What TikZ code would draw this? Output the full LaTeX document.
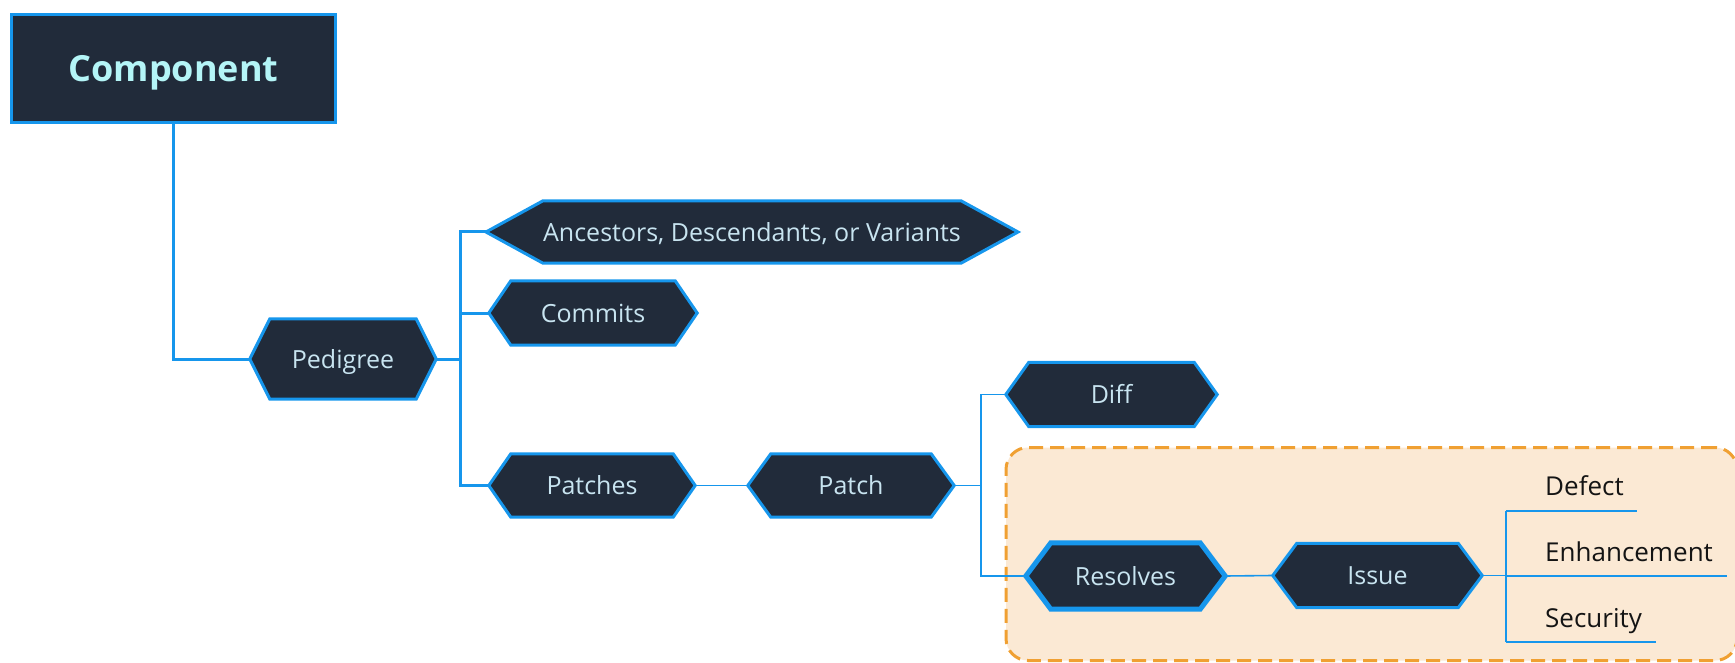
\documentclass[tikz,border=0pt]{standalone}
\usepackage{fontspec}
\setmainfont{Open Sans}
\pgfdeclarelayer{boxl}\pgfdeclarelayer{linel}\pgfdeclarelayer{hexl}
\pgfsetlayers{boxl,linel,hexl,main}
\definecolor{navy}{RGB}{33,43,58}
\definecolor{bblue}{RGB}{22,150,236}
\definecolor{compcyan}{RGB}{180,245,247}
\definecolor{hextext}{RGB}{200,228,240}
\definecolor{ofill}{RGB}{251,233,212}
\definecolor{odash}{RGB}{240,160,50}
\tikzset{
  hexlabel/.style={inner sep=0pt, text=hextext, font=\fontsize{25}{30}\selectfont, text height=18.5pt, text depth=0pt},
  hexbox/.style={fill=navy, draw=bblue, line width=3pt},
  conn/.style={draw=bblue, line width=3pt},
  thinconn/.style={draw=bblue, line width=1.6pt},
  uline/.style={draw=bblue, line width=2.6pt},
  leaf/.style={inner sep=0pt, anchor=base west, text=black!92, font=\fontsize{26}{30}\selectfont},
  compbox/.style={rectangle, draw=bblue, line width=3pt, fill=navy, inner sep=0pt, text=compcyan,
     font=\fontsize{36}{40}\selectfont\bfseries, text height=26pt, text depth=0pt},
  groupbox/.style={rectangle, rounded corners=22pt, fill=ofill, draw=odash, line width=3pt,
     dash pattern=on 14pt off 7pt, inner sep=0pt}
}
\newcommand{\hexdraw}[3][]{%
  \begin{pgfonlayer}{hexl}
  \draw[hexbox,#1] (#2.north west) -- (#2.north east) -- ([xshift=#3pt]#2.east) -- (#2.south east)
     -- (#2.south west) -- ([xshift=-#3pt]#2.west) -- cycle;
  \end{pgfonlayer}
  \coordinate (#2-l) at ([xshift=-#3pt]#2.west);
  \coordinate (#2-r) at ([xshift=#3pt]#2.east);
}
\begin{document}
\begin{tikzpicture}[x=1pt,y=-1pt]
\useasboundingbox (0,0) rectangle (1735,663);
% group box
\begin{pgfonlayer}{boxl}
\node[groupbox, minimum width=731pt, minimum height=213pt] (grp) at (1371.5,554) {};
\end{pgfonlayer}
% nodes
\node[compbox, minimum width=324pt, minimum height=108pt] (comp) at (173.5,68.5) {Component};
\node[hexlabel, minimum width=146pt, minimum height=80pt] (ped) at (343,359) {Pedigree};
\hexdraw{ped}{20}
\node[hexlabel, minimum width=414pt, minimum height=62pt] (anc) at (752,232) {Ancestors, Descendants, or Variants};
\hexdraw{anc}{57}
\node[hexlabel, minimum width=164pt, minimum height=64pt] (com) at (593,313) {Commits};
\hexdraw{com}{22}
\node[hexlabel, minimum width=162pt, minimum height=63pt] (pats) at (592,485.5) {Patches};
\hexdraw{pats}{22}
\node[hexlabel, minimum width=160pt, minimum height=63pt] (patch) at (851,485.5) {Patch};
\hexdraw{patch}{23}
\node[hexlabel, minimum width=165pt, minimum height=64pt] (diff) at (1111.5,394.5) {Diff};
\hexdraw{diff}{23}
\node[hexlabel, minimum width=149pt, minimum height=66pt] (res) at (1125.5,576) {Resolves};
\hexdraw[line width=5pt]{res}{25}
\node[hexlabel, minimum width=161pt, minimum height=64pt] (iss) at (1377.5,575.5) {Issue};
\hexdraw{iss}{24}
\node[leaf] (def) at (1545,495) {Defect};
\node[leaf] (enh) at (1545,561) {Enhancement};
\node[leaf] (sec) at (1545,627) {Security};
% junction coordinates
\coordinate (j1) at (460,0);
\coordinate (j2) at (981,0);
\coordinate (j3) at (1506,0);
\coordinate (du0) at (1506,511); \coordinate (du1) at (1531,511); \coordinate (de) at (1637,511);
\coordinate (eu0) at (1506,576); \coordinate (eu1) at (1531,576); \coordinate (ee) at (1727,576);
\coordinate (su0) at (1506,642); \coordinate (su1) at (1531,642); \coordinate (se) at (1656,642);
% connectors
\begin{pgfonlayer}{linel}
\draw[conn] (comp.south) |- (ped-l);
\draw[conn] (ped-r) -- (ped-r -| j1);
\draw[conn] (anc-l) -- (anc-l -| j1) -- (pats-l -| j1) -- (pats-l);
\draw[conn] (com-l) -- (com-l -| j1);
\draw[thinconn] (pats-r) -- (patch-l);
\draw[thinconn] (patch-r) -- (patch-r -| j2);
\draw[thinconn] (diff-l) -- (diff-l -| j2) -- (res-l -| j2) -- (res-l);
\draw[thinconn] (res-r) -- (iss-l);
\draw[thinconn] (iss-r) -- (iss-r -| j3);
\draw[thinconn] (du0) -- (su0);
\draw[thinconn] (du0) -- (du1); \draw[uline] (du1) -- (de);
\draw[thinconn] (eu0) -- (eu1); \draw[uline] (eu1) -- (ee);
\draw[thinconn] (su0) -- (su1); \draw[uline] (su1) -- (se);
\end{pgfonlayer}
\end{tikzpicture}
\end{document}
